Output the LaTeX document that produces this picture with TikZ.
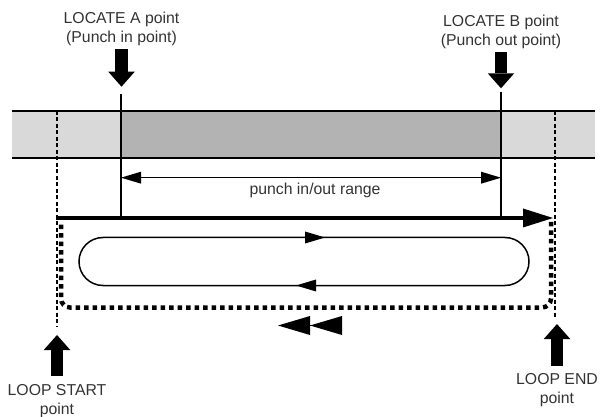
\documentclass[tikz,border=0pt]{standalone}
\usepackage{fontspec}
\setmainfont{Liberation Sans}
\usetikzlibrary{arrows.meta,positioning,decorations.markings}
\definecolor{bandlight}{HTML}{D9D9D9}
\definecolor{banddark}{HTML}{B3B3B3}
\definecolor{notegray}{HTML}{333333}

\begin{document}
\begin{tikzpicture}[
  x=1pt, y=-1pt,
  note/.style={font=\fontsize{15.8}{19}\selectfont, text=notegray, align=center,
               inner sep=0pt, outer sep=3.5pt},
  marker/.style={line width=12.5pt, -{Triangle[length=15pt, width=26.5pt, line width=0pt]}},
  rim/.style={line width=1.3pt},
  guide/.style={line width=1.4pt, dash pattern=on 4pt off 2.5pt},
  span/.style={line width=1.4pt, {Triangle[length=20pt, width=12pt, line width=0pt]}-{Triangle[length=20pt, width=12pt, line width=0pt]}},
  flow/.style={line width=3.6pt, -{Triangle[length=30pt, width=19pt, line width=0pt]}},
  track/.style={line width=1.5pt, rounded corners=24pt},
  loopback/.style={line width=4.5pt, dash pattern=on 4.5pt off 4pt, rounded corners=9pt},
  rewind/.style={line width=0.4pt, -{Triangle[length=32pt, width=19pt, line width=0pt, sep=0pt]Triangle[length=32pt, width=19pt, line width=0pt, sep=0pt]}}
]
\useasboundingbox (0,0) rectangle (603,417);

\fill[bandlight] (12,111) rectangle (595,158);
\fill[banddark] (121,111) rectangle (501,158);
\draw[rim] (12,111) -- (595,111) (12,158) -- (595,158);

\coordinate (startTop) at (57,111);
\coordinate (startBot) at (57,326);
\coordinate (endTop) at (555,111);
\coordinate (endBot) at (555,317);
\draw[guide] (startTop) -- (startBot);
\draw[guide] (endTop) -- (endBot);

\coordinate (aTop) at (121,94);
\coordinate (aBot) at (121,218);
\coordinate (bTop) at (501,92);
\coordinate (bBot) at (501,218);
\draw[rim] (aTop) -- (aBot);
\draw[rim] (bTop) -- (bBot);

\coordinate (aRange) at (121,177.7);
\coordinate (bRange) at (501,177.7);
\draw[span] (aRange) -- (bRange);
\node[note, anchor=base] (rangetext) at (315,195) {punch in/out range};

\coordinate (playFrom) at (56,218);
\coordinate (playTo) at (553,218);
\draw[flow] (playFrom) -- (playTo);

\draw[track, postaction={decorate}, decoration={markings,
    mark=at position 101pt with {\arrow{Triangle[length=20pt, width=12pt, line width=0pt]}},
    mark=at position 565.4pt with {\arrow{Triangle[length=20pt, width=12pt, line width=0pt]}}}]
  (200,237.5) -- (529,237.5) -- (529,285.5) -- (79,285.5) -- (79,237.5) -- cycle;

\draw[loopback] (551,222) -- (551,307.5) -- (61,307.5) -- (61,222);

\coordinate (rewFrom) at (342,325.5);
\coordinate (rewTo) at (278,325.5);
\draw[rewind] (rewFrom) -- (rewTo);

\node[note, anchor=south] (locA) at (121.5,49.5) {LOCATE A point\\(Punch in point)};
\node[note, anchor=south] (locB) at (501,52.5) {LOCATE B point\\(Punch out point)};
\node[note, anchor=north, outer sep=8pt] (loopStart) at (57,376) {LOOP START\\point};
\node[note, anchor=north, outer sep=8pt] (loopEnd) at (557,365.5) {LOOP END\\point};

\coordinate (aTip) at (121.5,86.7);
\coordinate (bTip) at (501,88.3);
\coordinate (startTip) at (57,335);
\coordinate (endTip) at (557,324);
\draw[marker] (locA.south) -- (aTip);
\draw[marker] (locB.south) -- (bTip);
\draw[marker] (loopStart.north) -- (startTip);
\draw[marker] (loopEnd.north) -- (endTip);
\end{tikzpicture}
\end{document}
